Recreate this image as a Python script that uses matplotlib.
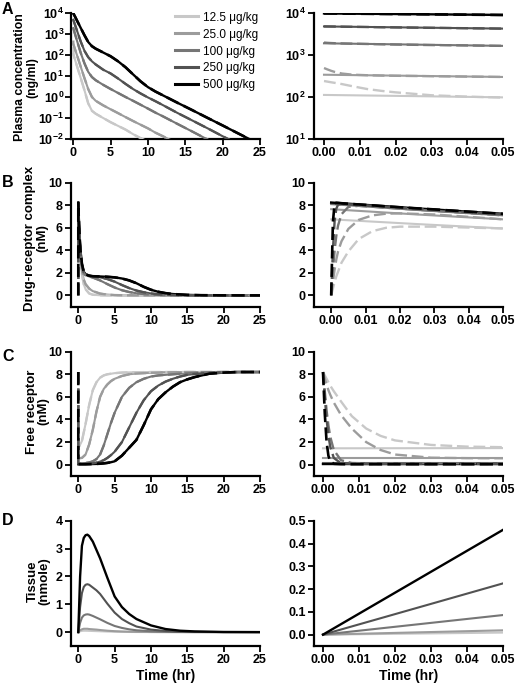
import numpy as np
import matplotlib
matplotlib.use('Agg')
import matplotlib.pyplot as plt
from matplotlib.ticker import FormatStrFormatter, LogLocator, NullLocator, MultipleLocator

plt.rcParams['font.family'] = ['Liberation Sans', 'DejaVu Sans']
plt.rcParams['font.weight'] = 'bold'
plt.rcParams['mathtext.fontset'] = 'custom'
plt.rcParams['mathtext.rm'] = 'Liberation Sans:bold'
plt.rcParams['mathtext.it'] = 'Liberation Sans:bold'
plt.rcParams['mathtext.bf'] = 'Liberation Sans:bold'

doses = ['12.5 μg/kg', '25.0 μg/kg', '100 μg/kg', '250 μg/kg', '500 μg/kg']
colors = ['#c8c8c8', '#9c9c9c', '#767676', '#525252', '#000000']

# ---- A: plasma concentration (ng/ml) ----
t_conc = [0, 0.25, 0.5, 1, 1.5, 2, 2.5, 3, 4, 5, 6, 7, 8, 9, 10, 11, 12, 14, 16, 18, 20, 22, 24, 25]
conc_125 = [112, 57.5, 29.5, 7.9, 2.1, 0.5, 0.22, 0.16, 0.1, 0.063, 0.042, 0.028, 0.017, 0.011,
            0.0074, 0.0048, 0.0032, 0.0014, 0.0006, 0.00025, 0.0001, 5e-5, 2e-5, 1e-5]
conc_25 = [339, 182, 98, 27.5, 7.9, 2.4, 1.0, 0.66, 0.4, 0.26, 0.17, 0.11, 0.072, 0.048,
           0.032, 0.02, 0.0135, 0.0058, 0.0025, 0.0011, 0.0005, 0.0002, 1e-4, 1e-4]
conc_100 = [1900, 955, 480, 126, 40, 15.8, 8.9, 6.3, 3.8, 2.4, 1.55, 1.0, 0.66, 0.43,
            0.28, 0.18, 0.12, 0.051, 0.022, 0.0093, 0.004, 0.0017, 0.0008, 0.0005]
conc_250 = [4790, 2630, 1450, 437, 158, 79, 50, 35.5, 20, 13.2, 7.6, 4.2, 2.4, 1.48,
            0.95, 0.63, 0.41, 0.17, 0.074, 0.032, 0.0135, 0.0058, 0.0025, 0.0016]
conc_500 = [9770, 6600, 4370, 1950, 870, 417, 263, 200, 132, 87, 50, 26, 12, 5.6,
            2.95, 1.82, 1.2, 0.52, 0.23, 0.1, 0.044, 0.019, 0.0083, 0.0055]

t_zoom = [0, 0.05]
t_zoom3 = [0, 0.025, 0.05]
conc_zoom_125 = [112, 105, 98]
conc_zoom_25 = [339, 319, 300]
conc_zoom_100 = [1900, 1770, 1650]
conc_zoom_250 = [4790, 4510, 4250]
conc_zoom_500 = [9770, 9380, 9000]

# second model (dashed), early times
t_dash = [0, 0.0005, 0.001, 0.0015, 0.002, 0.003, 0.005, 0.008, 0.012, 0.016, 0.02, 0.03, 0.04, 0.05]
conc_dash_125 = [240, 236, 232, 228, 224, 217, 203, 180, 155, 140, 129, 110, 102, 97]
conc_dash_25 = [490, 470, 452, 436, 420, 395, 362, 340, 330, 324, 320, 313, 306, 300]
conc_dash_100 = [1980, 1960, 1945, 1935, 1925, 1910, 1885, 1860, 1830, 1800, 1775, 1725, 1690, 1650]
conc_dash_250 = [4790, 4785, 4780, 4775, 4770, 4755, 4730, 4690, 4640, 4580, 4540, 4440, 4340, 4250]
conc_dash_500 = [9770, 9760, 9750, 9740, 9730, 9720, 9690, 9640, 9570, 9500, 9450, 9290, 9130, 8970]

# ---- B: drug-receptor complex (nM) ----
t_cplx = [0, 0.1, 0.2, 0.3, 0.5, 0.75, 1, 1.5, 2, 3, 4, 5, 6, 7, 8, 9, 10, 11, 12, 13, 15, 17, 20, 25]
cplx_125 = [6.75, 5.2, 4.0, 3.1, 1.9, 1.0, 0.55, 0.17, 0.06, 0.01, 0, 0, 0, 0, 0, 0, 0, 0, 0, 0, 0, 0, 0, 0]
cplx_25 = [7.65, 5.95, 4.65, 3.6, 2.3, 1.4, 1.0, 0.6, 0.38, 0.16, 0.07, 0.03, 0.015, 0.007,
           0.003, 0.001, 0, 0, 0, 0, 0, 0, 0, 0]
cplx_100 = [8.1, 6.2, 4.8, 3.8, 2.6, 2.0, 1.8, 1.68, 1.58, 1.33, 1.0, 0.7, 0.46, 0.3, 0.19,
            0.12, 0.07, 0.04, 0.025, 0.015, 0.005, 0.002, 0, 0]
cplx_250 = [8.2, 6.3, 4.9, 3.9, 2.7, 2.05, 1.85, 1.74, 1.68, 1.6, 1.45, 1.22, 0.92, 0.65, 0.43,
            0.28, 0.17, 0.1, 0.06, 0.035, 0.012, 0.004, 0.001, 0]
cplx_500 = [8.24, 6.4, 5.0, 4.0, 2.8, 2.1, 1.88, 1.75, 1.7, 1.68, 1.65, 1.6, 1.5, 1.33, 1.08,
            0.76, 0.5, 0.32, 0.2, 0.12, 0.045, 0.017, 0.004, 0]

cplx_zoom_125 = [6.75, 6.33, 5.94]
cplx_zoom_25 = [7.65, 7.18, 6.75]
cplx_zoom_100 = [8.1, 7.58, 7.1]
cplx_zoom_250 = [8.2, 7.68, 7.2]
cplx_zoom_500 = [8.24, 7.72, 7.24]

cplx_dash_125 = [0, 0.6, 1.2, 1.7, 2.1, 2.9, 3.9, 5.0, 5.7, 6.0, 6.1, 6.1, 6.02, 5.94]
cplx_dash_25 = [0, 1.2, 2.3, 3.2, 3.9, 4.8, 5.9, 6.7, 7.1, 7.25, 7.28, 7.18, 6.97, 6.75]
cplx_dash_100 = [0, 2.2, 4.0, 5.3, 6.2, 7.2, 7.85, 7.95, 7.87, 7.78, 7.7, 7.5, 7.3, 7.1]
cplx_dash_250 = [0, 4.0, 6.6, 7.7, 8.05, 8.12, 8.09, 8.03, 7.95, 7.86, 7.78, 7.59, 7.39, 7.2]
cplx_dash_500 = [0, 6.5, 8.15, 8.22, 8.21, 8.18, 8.13, 8.07, 7.99, 7.9, 7.82, 7.63, 7.43, 7.24]

# ---- C: free receptor (nM) ----
t_free = [0, 0.5, 1, 1.5, 2, 2.5, 3, 3.5, 4, 4.5, 5, 6, 7, 8, 9, 10, 11, 12, 13, 14, 15, 16, 18, 20, 22, 25]
free_125 = [1.45, 2.1, 3.6, 5.3, 6.6, 7.3, 7.7, 7.9, 8.0, 8.05, 8.1, 8.15, 8.17, 8.18, 8.19,
            8.2, 8.2, 8.2, 8.2, 8.2, 8.2, 8.2, 8.2, 8.2, 8.2, 8.2]
free_25 = [0.57, 0.6, 0.9, 1.8, 3.1, 4.7, 6.0, 6.7, 7.1, 7.4, 7.6, 7.85, 8.0, 8.07, 8.1,
           8.13, 8.15, 8.17, 8.18, 8.19, 8.2, 8.2, 8.2, 8.2, 8.2, 8.2]
free_100 = [0.12, 0.13, 0.15, 0.2, 0.3, 0.5, 0.9, 1.7, 2.7, 3.7, 4.6, 6.0, 6.8, 7.3, 7.6,
            7.8, 7.9, 7.95, 8.0, 8.05, 8.08, 8.12, 8.17, 8.2, 8.2, 8.2]
free_250 = [0.07, 0.07, 0.08, 0.09, 0.12, 0.18, 0.28, 0.4, 0.6, 0.85, 1.15, 2.0, 3.3, 4.6, 5.7,
            6.5, 7.0, 7.35, 7.6, 7.8, 7.95, 8.03, 8.12, 8.17, 8.2, 8.2]
free_500 = [0.04, 0.04, 0.04, 0.05, 0.06, 0.07, 0.09, 0.12, 0.16, 0.22, 0.3, 0.8, 1.5, 2.2, 3.5,
            4.9, 5.8, 6.4, 6.9, 7.3, 7.55, 7.75, 8.05, 8.15, 8.2, 8.2]

free_zoom_125 = [1.45, 1.47]
free_zoom_25 = [0.57, 0.57]
free_zoom_100 = [0.12, 0.12]
free_zoom_250 = [0.07, 0.07]
free_zoom_500 = [0.04, 0.04]

free_dash_125 = [8.2, 7.9, 7.6, 7.3, 7.0, 6.5, 5.6, 4.3, 3.2, 2.55, 2.15, 1.75, 1.6, 1.55]
free_dash_25 = [8.2, 7.6, 7.1, 6.6, 6.2, 5.5, 4.4, 3.2, 2.0, 1.3, 0.9, 0.62, 0.58, 0.57]
free_dash_100 = [8.2, 6.5, 4.8, 3.5, 2.5, 1.3, 0.4, 0.15, 0.12, 0.12, 0.12, 0.12, 0.12, 0.12]
free_dash_250 = [8.2, 6.0, 4.0, 2.6, 1.6, 0.6, 0.12, 0.08, 0.07, 0.07, 0.07, 0.07, 0.07, 0.07]
free_dash_500 = [8.2, 4.5, 2.0, 0.8, 0.3, 0.08, 0.05, 0.04, 0.04, 0.04, 0.04, 0.04, 0.04, 0.04]

# ---- D: tissue (nmole) ----
t_tis = [0, 0.25, 0.5, 0.75, 1, 1.25, 1.5, 2, 2.5, 3, 4, 5, 6, 7, 8, 10, 12, 14, 16, 20, 25]
tis_125 = [0, 0.03, 0.045, 0.05, 0.05, 0.048, 0.045, 0.04, 0.035, 0.03, 0.02, 0.013, 0.008,
           0.005, 0.003, 0.001, 0, 0, 0, 0, 0]
tis_25 = [0, 0.07, 0.1, 0.12, 0.12, 0.12, 0.11, 0.1, 0.09, 0.075, 0.05, 0.033, 0.022, 0.014,
          0.009, 0.004, 0.002, 0, 0, 0, 0]
tis_100 = [0, 0.33, 0.52, 0.6, 0.63, 0.64, 0.63, 0.58, 0.52, 0.46, 0.33, 0.22, 0.15, 0.1,
           0.065, 0.03, 0.012, 0.005, 0.002, 0, 0]
tis_250 = [0, 0.9, 1.4, 1.62, 1.7, 1.72, 1.7, 1.6, 1.5, 1.37, 1.02, 0.7, 0.47, 0.32, 0.2,
           0.09, 0.04, 0.015, 0.007, 0.001, 0]
tis_500 = [0, 2.0, 3.1, 3.38, 3.48, 3.5, 3.45, 3.25, 2.95, 2.65, 1.95, 1.28, 0.9, 0.65, 0.47,
           0.24, 0.11, 0.05, 0.025, 0.005, 0]

tis_zoom_125 = [0, 0.009]
tis_zoom_25 = [0, 0.019]
tis_zoom_100 = [0, 0.086]
tis_zoom_250 = [0, 0.225]
tis_zoom_500 = [0, 0.46]

conc = [conc_125, conc_25, conc_100, conc_250, conc_500]
conc_zoom = [conc_zoom_125, conc_zoom_25, conc_zoom_100, conc_zoom_250, conc_zoom_500]
conc_dash = [conc_dash_125, conc_dash_25, conc_dash_100, conc_dash_250, conc_dash_500]
cplx = [cplx_125, cplx_25, cplx_100, cplx_250, cplx_500]
cplx_zoom = [cplx_zoom_125, cplx_zoom_25, cplx_zoom_100, cplx_zoom_250, cplx_zoom_500]
cplx_dash = [cplx_dash_125, cplx_dash_25, cplx_dash_100, cplx_dash_250, cplx_dash_500]
free = [free_125, free_25, free_100, free_250, free_500]
free_zoom = [free_zoom_125, free_zoom_25, free_zoom_100, free_zoom_250, free_zoom_500]
free_dash = [free_dash_125, free_dash_25, free_dash_100, free_dash_250, free_dash_500]
tis = [tis_125, tis_25, tis_100, tis_250, tis_500]
tis_zoom = [tis_zoom_125, tis_zoom_25, tis_zoom_100, tis_zoom_250, tis_zoom_500]

fig = plt.figure(figsize=(5.15, 6.85), dpi=100)

rows = [(0.7971, 0.1839), (0.5523, 0.1810), (0.3051, 0.1815), (0.0569, 0.1829)]
xl, xr, w = 0.1379, 0.6097, 0.367
lab_font = dict(fontsize=9.5, fontweight='bold', linespacing=0.95)


def style(ax):
    for s in ['top', 'right']:
        ax.spines[s].set_visible(False)
    for s in ['left', 'bottom']:
        ax.spines[s].set_linewidth(1.6)
    ax.tick_params(direction='out', length=4, width=1.3, labelsize=9, pad=2)


def lw(i):
    return 1.7 if i == 4 else 1.5


def draw(ax, t, ys, t_d=None, ys_d=None, solid_cut=None):
    lines = []
    for i, y in enumerate(ys):
        ln, = ax.plot(t, y, color=colors[i], lw=lw(i), zorder=2 + i, label=doses[i])
        lines.append(ln)
    if t_d is not None:
        for i, yd in enumerate(ys_d):
            if solid_cut is not None:
                ta = np.asarray(t)
                m = ta > solid_cut
                tt = np.concatenate([t_d, ta[m]])
                yy = np.concatenate([yd, np.asarray(ys[i])[m]])
            else:
                tt, yy = t_d, yd
            ax.plot(tt, yy, color=colors[i], lw=lw(i) + 0.2, dashes=(5, 2),
                    zorder=7 + i)
    return lines


axes = []
for r, (b, h) in enumerate(rows):
    axl = fig.add_axes([xl, b, w, h])
    axr = fig.add_axes([xr, b, w, h])
    style(axl)
    style(axr)
    axes.append((axl, axr))

# A
axl, axr = axes[0]
lines = draw(axl, t_conc, conc, t_dash, conc_dash, solid_cut=0.05)
axl.set_yscale('log')
axl.set_ylim(1e-2, 1e4)
axl.set_xlim(-0.3, 25)
axl.yaxis.set_major_locator(LogLocator(base=10, numticks=10))
axl.yaxis.set_minor_locator(NullLocator())
axl.tick_params(axis='y', pad=1)
axl.set_ylabel('Plasma concentration\n(ng/ml)', fontsize=8.8, fontweight='bold', linespacing=0.95)
axl.yaxis.set_label_coords(-0.175, 0.49)
leg = axl.legend(handles=lines, loc='upper right', bbox_to_anchor=(1.0, 1.03), frameon=False,
                 prop={'weight': 'normal', 'size': 8.5}, handlelength=1.9, labelspacing=0.42,
                 handletextpad=0.4, borderaxespad=0, borderpad=0.2)
for ln in leg.get_lines():
    ln.set_linewidth(2.2)

draw(axr, t_zoom3, conc_zoom, t_dash, conc_dash)
axr.set_yscale('log')
axr.set_ylim(1e1, 1e4)
axr.set_xlim(-0.0028, 0.05)
axr.yaxis.set_major_locator(LogLocator(base=10, numticks=10))
axr.yaxis.set_minor_locator(NullLocator())

# B
axl, axr = axes[1]
draw(axl, t_cplx, cplx, t_dash, cplx_dash, solid_cut=0.05)
axl.set_ylim(-1, 10)
axl.set_xlim(-1, 25)
axl.set_ylabel('Drug-receptor complex\n(nM)', **lab_font)
axl.yaxis.set_label_coords(-0.122, 0.55)
draw(axr, t_zoom3, cplx_zoom, t_dash, cplx_dash)
axr.set_ylim(-1, 10)
axr.set_xlim(-0.005, 0.05)

# C
axl, axr = axes[2]
draw(axl, t_free, free, t_dash, free_dash, solid_cut=0.05)
axl.set_ylim(-1, 10)
axl.set_xlim(-1, 25)
axl.set_ylabel('Free receptor\n(nM)', **lab_font)
axl.yaxis.set_label_coords(-0.116, 0.52)
draw(axr, t_zoom, free_zoom, t_dash, free_dash)
axr.set_ylim(-1, 10)
axr.set_xlim(-0.0025, 0.05)

# D
axl, axr = axes[3]
draw(axl, t_tis, tis)
axl.set_ylim(-0.5, 4)
axl.set_xlim(-1, 25)
axl.set_ylabel('Tissue\n(nmole)', **lab_font)
axl.yaxis.set_label_coords(-0.111, 0.52)
axl.set_xlabel('Time (hr)', fontsize=10, fontweight='bold', labelpad=2)
draw(axr, t_zoom, tis_zoom)
axr.set_ylim(-0.05, 0.5)
axr.set_xlim(-0.0025, 0.05)
axr.yaxis.set_major_locator(MultipleLocator(0.1))
axr.yaxis.set_major_formatter(FormatStrFormatter('%.1f'))
axr.set_xlabel('Time (hr)', fontsize=10, fontweight='bold', labelpad=2)

for axl, axr in axes:
    axl.xaxis.set_major_locator(MultipleLocator(5))
    axr.xaxis.set_major_locator(MultipleLocator(0.01))
    axr.xaxis.set_major_formatter(FormatStrFormatter('%.2f'))
for axl, axr in axes[1:3]:
    axl.yaxis.set_major_locator(MultipleLocator(2))
    axr.yaxis.set_major_locator(MultipleLocator(2))
axes[3][0].yaxis.set_major_locator(MultipleLocator(1))

fig.canvas.draw()
for pair in axes:
    for ax in pair:
        for lab in ax.get_xticklabels() + ax.get_yticklabels():
            lab.set_fontweight('bold')

for letter, y in zip('ABCD', [0.997, 0.745, 0.49, 0.251]):
    fig.text(0.004, y, letter, fontsize=11.5, fontweight='bold', va='top', ha='left')

fig.savefig('out.png', dpi=100)
